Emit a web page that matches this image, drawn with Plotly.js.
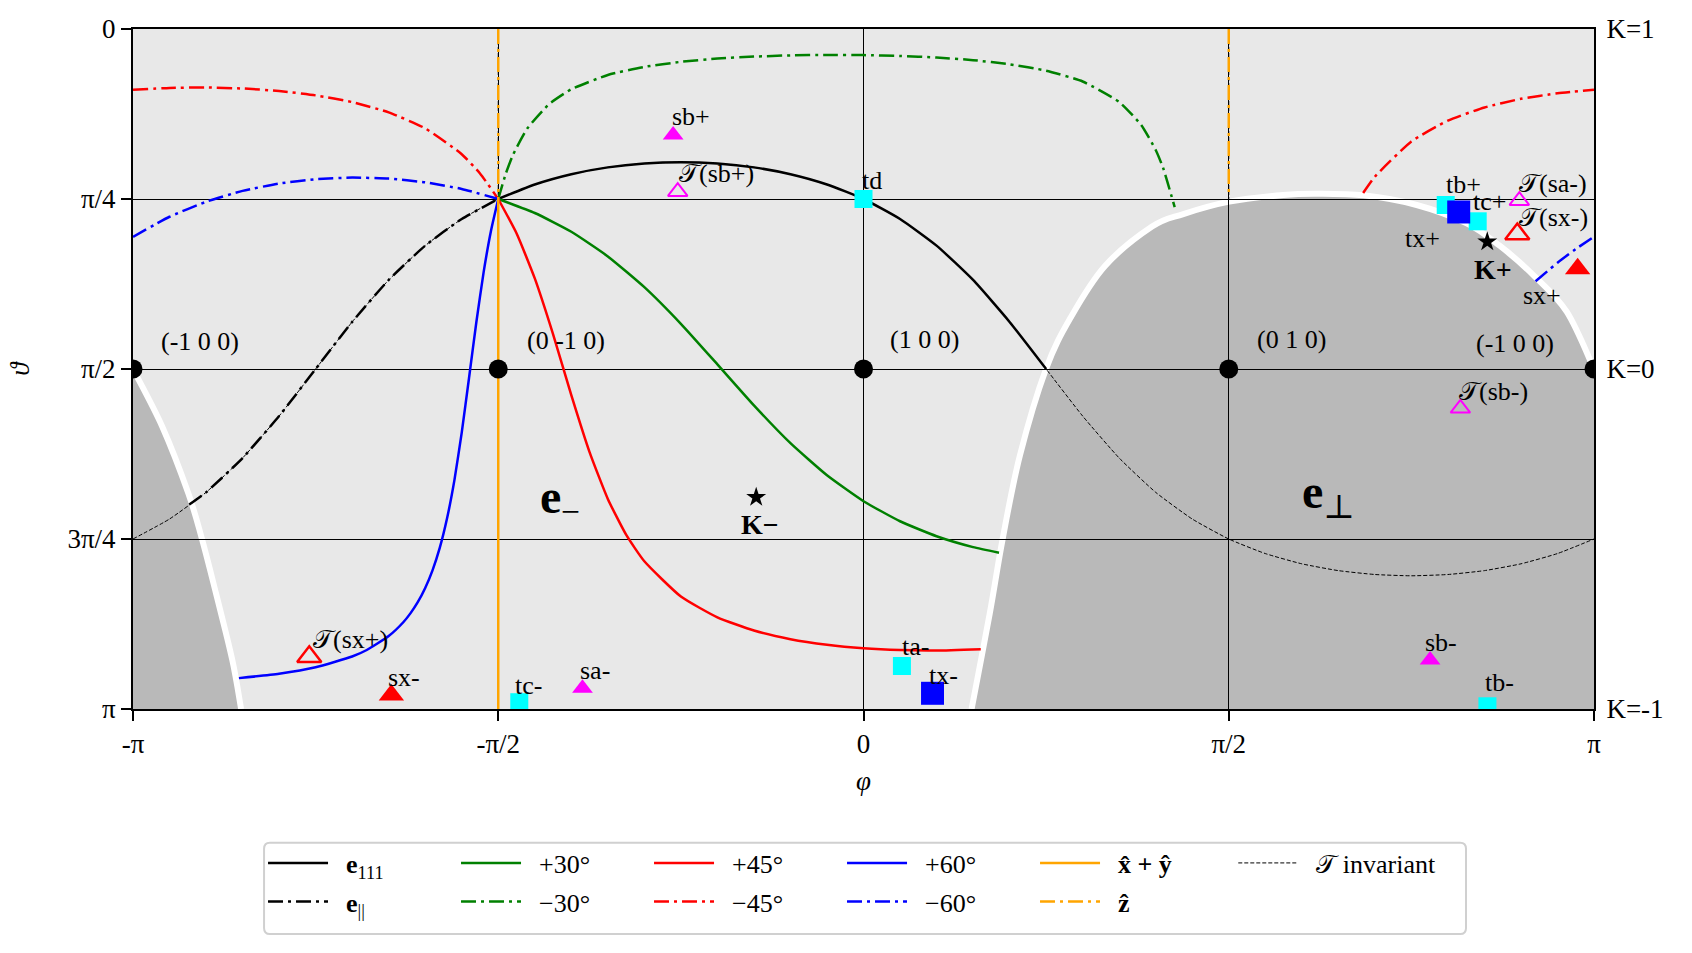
<!DOCTYPE html>
<html><head><meta charset="utf-8">
<script src="https://cdn.plot.ly/plotly-3.0.1.min.js"></script>
<style>html,body{margin:0;padding:0;background:#fff}#chart{width:1692px;height:953px}</style>
</head><body><div id="chart"></div>
<script>
// All angles are in units of pi: phi in [-1, 1], theta in [0, 1]

// T-invariant circle (black dashed) plus vertical segments
const tInvPhi = [-1,-0.95,-0.9,-0.85,-0.8,-0.75,-0.7,-0.65,-0.6,-0.55,-0.5,-0.45,-0.4,-0.35,-0.3,-0.25,-0.2,-0.15,-0.1,-0.05,0,0.05,0.1,0.15,0.2,0.25,0.3,0.35,0.4,0.45,0.5,0.55,0.6,0.65,0.7,0.75,0.8,0.85,0.9,0.95,1,null,-0.5,-0.5,null,0.5,0.5];
const tInvTheta = [0.75,0.7206,0.6814,0.6309,0.5692,0.5,0.4308,0.3691,0.3186,0.2794,0.25,0.2286,0.2135,0.2035,0.1978,0.1959,0.1978,0.2035,0.2135,0.2286,0.25,0.2794,0.3186,0.3691,0.4308,0.5,0.5692,0.6309,0.6814,0.7206,0.75,0.7714,0.7865,0.7965,0.8022,0.8041,0.8022,0.7965,0.7865,0.7714,0.75,null,0,0.25,null,0,0.25];

// e111 (solid black) and e|| (dash-dot black)
const e111Phi = [-0.5,-0.45,-0.4,-0.35,-0.3,-0.25,-0.2,-0.15,-0.1,-0.05,0,0.05,0.1,0.15,0.2,0.25];
const e111Theta = [0.25,0.2286,0.2135,0.2035,0.1978,0.1959,0.1978,0.2035,0.2135,0.2286,0.25,0.2794,0.3186,0.3691,0.4308,0.5];
const eParPhi = [-0.923,-0.9,-0.85,-0.8,-0.75,-0.7,-0.65,-0.6,-0.55,-0.5];
const eParTheta = [0.6994,0.6814,0.6309,0.5692,0.5,0.4308,0.3691,0.3186,0.2794,0.25];

// +30 / -30 (green)
const p30Phi = [-0.5,-0.45,-0.4,-0.35,-0.3,-0.25,-0.2,-0.15,-0.1,-0.05,0,0.05,0.1,0.15,0.1855];
const p30Theta = [0.25,0.2706,0.2982,0.3344,0.3796,0.4335,0.4932,0.5535,0.6091,0.6563,0.6944,0.7239,0.7459,0.7619,0.7701];
const m30Phi = [-0.5,-0.49,-0.48,-0.46,-0.43,-0.4,-0.35,-0.3,-0.25,-0.2,-0.15,-0.1,-0.05,0,0.05,0.1,0.15,0.2,0.25,0.3,0.35,0.38,0.4,0.41,0.426];
const m30Theta = [0.25,0.2137,0.1854,0.146,0.1101,0.0886,0.0676,0.0557,0.0483,0.0435,0.0406,0.0388,0.0381,0.0384,0.0396,0.042,0.0458,0.0519,0.0613,0.0772,0.1073,0.141,0.1779,0.2039,0.2619];

// +45 / -45 (red)
const p45Phi = [-0.5,-0.475,-0.45,-0.425,-0.4,-0.375,-0.35,-0.325,-0.3,-0.25,-0.2,-0.15,-0.1,-0.05,0,0.05,0.1,0.1605];
const p45Theta = [0.25,0.3004,0.3668,0.4487,0.5384,0.6222,0.6911,0.7436,0.7828,0.8346,0.8652,0.8846,0.8973,0.9055,0.9107,0.9134,0.914,0.912];
const m45Phi = [-1,-0.95,-0.9,-0.85,-0.8,-0.75,-0.7,-0.65,-0.6,-0.55,-0.525,-0.5,null,0.684,0.7,0.75,0.8,0.85,0.9,0.95,1];
const m45Theta = [0.0893,0.0866,0.086,0.0875,0.0912,0.0976,0.1075,0.1226,0.1461,0.1841,0.2124,0.25,null,0.2411,0.2172,0.1654,0.1348,0.1154,0.1027,0.0945,0.0893];

// +60 / -60 (blue)
const p60Phi = [-0.5,-0.51,-0.52,-0.53,-0.54,-0.55,-0.56,-0.57,-0.58,-0.59,-0.6,-0.61,-0.62,-0.63,-0.65,-0.68,-0.7,-0.75,-0.8,-0.855];
const p60Theta = [0.25,0.297,0.3576,0.4313,0.5132,0.5935,0.6634,0.7192,0.7627,0.7961,0.8221,0.8426,0.859,0.8724,0.8927,0.9132,0.9228,0.9387,0.9482,0.9546];
const m60Phi = [-1,-0.95,-0.9,-0.85,-0.8,-0.75,-0.7,-0.65,-0.6,-0.55,-0.5,null,0.92,0.95,0.975,1];
const m60Theta = [0.3056,0.2761,0.2541,0.2381,0.2273,0.2209,0.2185,0.22,0.2255,0.2352,0.25,null,0.371,0.3437,0.3236,0.3056];

// x+y (orange solid) and z (orange dash-dot)
const xyPhi = [-0.5,-0.5];
const xyTheta = [0.25,1];
const zPhi = [-0.5,-0.5,null,0.5,0.5];
const zTheta = [0,0.25,null,0,0.2466];

// Boundary of the e_perp region (white line, dark grey region)
const bndRPhi = [0.148,0.1728,0.1906,0.2142,0.2498,0.2836,0.3306,0.395,0.4378,0.5008,0.5747,0.6204,0.6843,0.7573,0.8257,0.8713,0.9169,0.9626,1];
const bndRTheta = [1,0.8597,0.7494,0.6269,0.5,0.4244,0.3485,0.2905,0.2721,0.2539,0.2441,0.2422,0.2446,0.2588,0.2858,0.3191,0.3618,0.4157,0.5];
const bndLPhi = [-1,-0.9599,-0.9243,-0.9055,-0.8864,-0.8641,-0.852];
const bndLTheta = [0.5,0.5849,0.6828,0.7504,0.8299,0.9279,1];

// Points
const axisPhi = [-1,-0.5,0,0.5,1];
const axisTheta = [0.5,0.5,0.5,0.5,0.5];
const sFilledMagPhi = [-0.2606,-0.3847,0.7756];       // sb+, sa-, sb-
const sFilledMagTheta = [0.1559,0.9696,0.9279];
const sOpenMagPhi = [-0.2543,0.8978,0.8171];          // T(sb+), T(sa-), T(sb-)
const sOpenMagTheta = [0.2392,0.2525,0.5578];
const sFilledRedPhi = [-0.6463,0.9776];               // sx-, sx+
const sFilledRedTheta = [0.9794,0.3525];
const sOpenRedPhi = [-0.7587,0.895];                  // T(sx+), T(sx-)
const sOpenRedTheta = [0.9231,0.3015];
const tCyanPhi = [0,0.797,0.8408,0.0526,-0.4712,0.8541]; // td, tb+, tc+, ta-, tc-, tb-
const tCyanTheta = [0.25,0.2588,0.2828,0.9368,0.99,0.996];
const tBluePhi = [0.8148,0.0945];                     // tx+, tx-
const tBlueTheta = [0.2691,0.9769];
const kPhi = [0.8539,-0.1469];                        // K+, K-
const kTheta = [0.3127,0.6887];

// Labels
const labelText = ['(-1 0 0)','(0 -1 0)','(1 0 0)','(0 1 0)','(-1 0 0)','sb+','𝒯(sb+)','td','tb+','tc+','tx+','𝒯(sa-)','𝒯(sx-)','sx+','𝒯(sb-)','sb-','tb-','ta-','tx-','sa-','tc-','sx-','𝒯(sx+)'];
const labelPhi = [-0.9083,-0.4079,0.0836,0.5862,0.8919,-0.2359,-0.2019,0.0119,0.8207,0.8576,0.7659,0.9439,0.9439,0.9288,0.8631,0.7906,0.87,0.0705,0.1098,-0.368,-0.4585,-0.6296,-0.7029];
const labelTheta = [0.4599,0.4588,0.4563,0.4563,0.4622,0.129,0.2122,0.2231,0.2294,0.254,0.3074,0.2265,0.2779,0.3912,0.5334,0.9029,0.9603,0.9084,0.95,0.9437,0.9647,0.954,0.8985];
const boldText = ['K+','K−'];
const boldPhi = [0.8617,-0.1417];
const boldTheta = [0.3544,0.7294];
const regionText = ['<b>e</b><sub>−</sub>','<b>e</b><sub>⊥</sub>'];
const regionPhi = [-0.4155,0.6359];
const regionTheta = [0.6926,0.6853];

const xTickVals = [-1,-0.5,0,0.5,1];
const xTickText = ['-π','-π/2','0','π/2','π'];
const yTickVals = [0,0.25,0.5,0.75,1];
const yTickText = ['0','π/4','π/2','3π/4','π'];
const kTickVals = [0,0.5,1];
const kTickText = ['K=1','K=0','K=-1'];

const FONT = 'Liberation Serif, DejaVu Serif, serif';
const DASHDOT = '15px,5px,3px,5px';
const LW = 2.5;
const GAP = '\u00a0\u00a0';

function lineTrace(name, x, y, color, dash, width, legend, rank) {
  return {type:'scatter', mode:'lines', name:GAP + name, x:x, y:y,
    line:{color:color, dash:dash, width:width, shape:'spline', smoothing:0.5},
    connectgaps:false, legend:legend, legendrank:rank, showlegend:true, hoverinfo:'skip'};
}
function markTrace(x, y, symbol, size, color, lw, yaxis) {
  const open = symbol.indexOf('open') >= 0;
  return {type:'scatter', mode:'markers', x:x, y:y, yaxis:yaxis||'y', showlegend:false, hoverinfo:'skip',
    marker:{symbol:symbol, size:size, color:color, line:{width:open?lw:0, color:color}}};
}

const traces = [
  lineTrace('𝒯 invariant', tInvPhi, tInvTheta, 'black', '4px,2px', 1, 'legend3', 6),
  lineTrace('<b>e</b><sub>111</sub>', e111Phi, e111Theta, 'black', 'solid', LW, 'legend', 1),
  lineTrace('<b>e</b><sub>||</sub>', eParPhi, eParTheta, 'black', DASHDOT, LW, 'legend2', 1),
  lineTrace('+30°', p30Phi, p30Theta, 'green', 'solid', LW, 'legend', 2),
  lineTrace('−30°', m30Phi, m30Theta, 'green', DASHDOT, LW, 'legend2', 2),
  lineTrace('+45°', p45Phi, p45Theta, 'red', 'solid', LW, 'legend', 3),
  lineTrace('−45°', m45Phi, m45Theta, 'red', DASHDOT, LW, 'legend2', 3),
  lineTrace('+60°', p60Phi, p60Theta, 'blue', 'solid', LW, 'legend', 4),
  lineTrace('−60°', m60Phi, m60Theta, 'blue', DASHDOT, LW, 'legend2', 4),
  lineTrace('<b>x̂ + ŷ</b>', xyPhi, xyTheta, 'orange', 'solid', LW, 'legend', 5),
  lineTrace('<b>ẑ</b>', zPhi, zTheta, 'orange', DASHDOT, LW, 'legend2', 5),
  markTrace(sFilledMagPhi, sFilledMagTheta, 'triangle-up', 18, 'magenta', 0),
  markTrace(sOpenMagPhi, sOpenMagTheta, 'triangle-up-open', 17, 'magenta', 2),
  markTrace(sFilledRedPhi, sFilledRedTheta, 'triangle-up', 22, 'red', 0),
  markTrace(sOpenRedPhi, sOpenRedTheta, 'triangle-up-open', 21, 'red', 2.5),
  markTrace(tCyanPhi, tCyanTheta, 'square', 18, '#00ffff', 0),
  markTrace(tBluePhi, tBlueTheta, 'square', 23, 'blue', 0),
  markTrace(kPhi, kTheta, 'star', 15, 'black', 0),
  markTrace(axisPhi, axisTheta, 'circle', 19, 'black', 0, 'y2')
];

// smooth path (Catmull-Rom -> cubic Bezier) through the boundary points
function smoothPath(xs, ys, close, extra) {
  const n = xs.length;
  let s = 'M ' + xs[0] + ',' + ys[0];
  for (let i = 0; i < n - 1; i++) {
    const i0 = Math.max(0, i - 1), i3 = Math.min(n - 1, i + 2);
    const c1x = xs[i] + (xs[i + 1] - xs[i0]) / 6, c1y = ys[i] + (ys[i + 1] - ys[i0]) / 6;
    const c2x = xs[i + 1] - (xs[i3] - xs[i]) / 6, c2y = ys[i + 1] - (ys[i3] - ys[i]) / 6;
    s += ' C ' + c1x + ',' + c1y + ' ' + c2x + ',' + c2y + ' ' + xs[i + 1] + ',' + ys[i + 1];
  }
  if (extra) s += extra;
  if (close) s += ' Z';
  return s;
}
const GREY = '#b9b9b9';
const shapes = [
  {type:'path', xref:'x', yref:'y', layer:'below', fillcolor:GREY, line:{width:0},
    path: smoothPath(bndRPhi, bndRTheta, true, ' L 1,1')},
  {type:'path', xref:'x', yref:'y', layer:'below', fillcolor:GREY, line:{width:0},
    path: smoothPath(bndLPhi, bndLTheta, true, ' L -1,1')},
  {type:'path', xref:'x', yref:'y', layer:'below', fillcolor:'rgba(0,0,0,0)', line:{width:6, color:'white'},
    path: smoothPath(bndRPhi, bndRTheta, false)},
  {type:'path', xref:'x', yref:'y', layer:'below', fillcolor:'rgba(0,0,0,0)', line:{width:6, color:'white'},
    path: smoothPath(bndLPhi, bndLTheta, false)}
];
// legend frame (rounded box)
(function(){
  const x0 = 0.0897, x1 = 0.9124, y0 = -0.1966, y1 = -0.3309, rx = 0.004, ry = 0.009;
  shapes.push({type:'path', xref:'paper', yref:'paper', layer:'below', fillcolor:'rgba(255,255,255,0.8)',
    line:{color:'#d0d0d0', width:2},
    path:'M '+(x0+rx)+','+y0+' L '+(x1-rx)+','+y0+' Q '+x1+','+y0+' '+x1+','+(y0-ry)+
      ' L '+x1+','+(y1+ry)+' Q '+x1+','+y1+' '+(x1-rx)+','+y1+' L '+(x0+rx)+','+y1+
      ' Q '+x0+','+y1+' '+x0+','+(y1+ry)+' L '+x0+','+(y0-ry)+' Q '+x0+','+y0+' '+(x0+rx)+','+y0+' Z'});
})();

const annotations = [];
labelText.forEach((t, i) => annotations.push({x:labelPhi[i], y:labelTheta[i], xref:'x', yref:'y', text:t, showarrow:false,
  xanchor:'center', yanchor:'middle', font:{family:FONT, size:26, color:'black'}}));
boldText.forEach((t, i) => annotations.push({x:boldPhi[i], y:boldTheta[i], xref:'x', yref:'y', text:'<b>'+t+'</b>', showarrow:false,
  xanchor:'center', yanchor:'middle', font:{family:FONT, size:28, color:'black'}}));
regionText.forEach((t, i) => annotations.push({x:regionPhi[i], y:regionTheta[i], xref:'x', yref:'y', text:t, showarrow:false,
  xanchor:'center', yanchor:'middle', font:{family:FONT, size:48, color:'black'}}));

const axisCommon = {showgrid:true, gridcolor:'black', gridwidth:1, zeroline:false, showline:true, linecolor:'black',
  linewidth:2, mirror:true, ticks:'outside', ticklen:10, tickwidth:2, tickcolor:'black', automargin:false,
  tickfont:{family:FONT, size:27, color:'black'}, tickmode:'array'};

const legendCommon = {orientation:'h', xanchor:'left', yanchor:'middle', x:0.089, entrywidth:118, entrywidthmode:'pixels',
  itemwidth:60, bgcolor:'rgba(0,0,0,0)', borderwidth:0, font:{family:FONT, size:26, color:'black'}, traceorder:'normal'};

const layout = {
  width:1692, height:953,
  margin:{l:133, r:98, t:29, b:244},
  paper_bgcolor:'white', plot_bgcolor:'#e8e8e8',
  xaxis: Object.assign({}, axisCommon, {range:[-1,1], tickvals:xTickVals, ticktext:xTickText,
    title:{text:'φ', font:{family:FONT, size:27, color:'black', style:'italic'}, standoff:13}}),
  yaxis: Object.assign({}, axisCommon, {range:[1,0], tickvals:yTickVals, ticktext:yTickText,
    title:{text:'ϑ', font:{family:FONT, size:27, color:'black', style:'italic'}, standoff:30}}),
  yaxis2: {overlaying:'y', side:'right', range:[1,0], tickmode:'array', tickvals:kTickVals, ticktext:kTickText,
    showgrid:false, zeroline:false, showline:false, ticks:'outside', ticklen:6, tickcolor:'rgba(0,0,0,0)',
    automargin:false, tickfont:{family:FONT, size:27, color:'black'}},
  legend: Object.assign({}, legendCommon, {y:-0.2265}),
  legend2: Object.assign({}, legendCommon, {y:-0.2834}),
  legend3: {orientation:'h', xanchor:'left', yanchor:'middle', x:0.7531, y:-0.2265, itemwidth:60,
    bgcolor:'rgba(0,0,0,0)', borderwidth:0, font:{family:FONT, size:26, color:'black'}},
  shapes: shapes,
  annotations: annotations
};

Plotly.newPlot('chart', traces, layout, {staticPlot:true, displayModeBar:false});
</script></body></html>
